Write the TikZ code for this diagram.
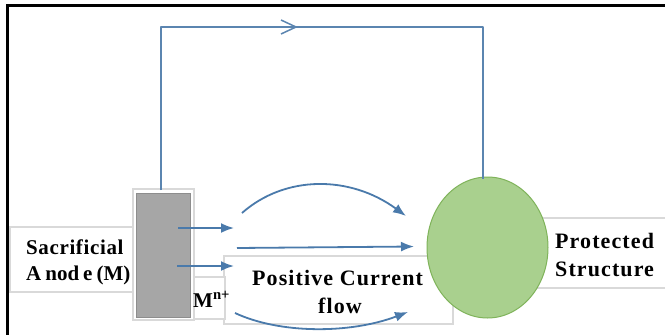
\documentclass[tikz,border=0pt]{standalone}
\usepackage{fontspec}
\setmainfont{Liberation Serif}
\usetikzlibrary{arrows.meta,shapes.geometric}
\definecolor{arrowblue}{HTML}{4A7AAB}
\definecolor{wireblue}{HTML}{5B85B0}
\definecolor{boxgray}{HTML}{D9D9D9}
\definecolor{anodegray}{HTML}{A6A6A6}
\definecolor{circfill}{HTML}{A9D08E}
\definecolor{circdraw}{HTML}{7FB35A}
\begin{document}
\begin{tikzpicture}[x=1pt,y=-1pt,
  txtbox/.style={draw=boxgray,line width=1.5pt,fill=white,inner sep=0pt,rectangle},
  lbl/.style={font=\fontsize{22}{28}\selectfont\bfseries\addfontfeature{LetterSpace=5},inner sep=0pt,anchor=base west,align=left},
  flow/.style={draw=arrowblue,line width=1.8pt,-{Latex[length=13pt,width=10pt]}},
  wire/.style={draw=wireblue,line width=1.5pt}]
\useasboundingbox (0,0) rectangle (665,335);
\fill[white] (0,0) rectangle (665,335);
% text boxes
\node[txtbox,minimum width=124pt,minimum height=65pt] (sacbox) at (72,259.5) {};
\node[txtbox,minimum width=229pt,minimum height=68pt] (posbox) at (338.5,290) {};
\node[txtbox,minimum width=140pt,minimum height=70pt] (probox) at (600,253) {};
\node[txtbox,minimum width=31pt,minimum height=42pt] (mbox) at (209.5,298) {};
% anode
\node[txtbox,minimum width=61pt,minimum height=131pt] (frame) at (163.5,254.5) {};
\node[rectangle,draw=anodegray!85!black,line width=0.6pt,fill=anodegray,minimum width=54pt,minimum height=124pt,inner sep=0pt] (anode) at (163,255) {};
% protected structure
\node[ellipse,draw=circdraw,line width=1pt,fill=circfill,minimum width=121pt,minimum height=141pt,inner sep=0pt] (circ) at (487.5,247.5) {};
% black border
\draw[line width=3pt,black] (6,5.5) -- (665,5.5);
\draw[line width=3pt,black] (7.5,4) -- (7.5,335);
% external wire
\coordinate (wa) at (161,190);
\coordinate (wb) at (161,27);
\coordinate (wc) at (483,27);
\coordinate (wd) at (483,178.5);
\coordinate (chev) at (296,27);
\draw[wire,line join=round] (wa) -- (wb) -- (wc) -- (wd);
\draw[wire,line join=miter] ([shift={(-15,-7)}]chev) -- (chev) -- ([shift={(-15,7)}]chev);
% flow arrows
\coordinate (a1s) at (178,228); \coordinate (a1e) at (234,228);
\coordinate (a2s) at (177,266); \coordinate (a2e) at (234,266);
\coordinate (c1s) at (242,213); \coordinate (c1e) at (406,216);
\coordinate (s1s) at (237,248); \coordinate (s1e) at (414,246.5);
\coordinate (c2s) at (235,313); \coordinate (c2e) at (408,312);
\draw[flow] (a1s) -- (a1e);
\draw[flow] (a2s) -- (a2e);
\draw[flow] (c1s) .. controls (285,175) and (350,175) .. (c1e);
\draw[flow] (s1s) -- (s1e);
\draw[flow] (c2s) .. controls (280,334) and (350,334) .. (c2e);
% labels
\node[lbl,font=\fontsize{21}{26}\selectfont\bfseries] (sactxt) at (26,280) {{\addfontfeature{LetterSpace=3}Sacrificial}\\\spaceskip=4pt plus 1pt\relax A nod e (M)};
\node[lbl] (postxt) at (252,313) {Positive Current\\\hspace*{66pt}flow};
\node[lbl] (protxt) at (555,276) {Protected\\Structure};
\node[lbl,font=\fontsize{21}{26}\selectfont\bfseries] (mtxt) at (193,307) {M\textsuperscript{n+}};
\end{tikzpicture}
\end{document}
